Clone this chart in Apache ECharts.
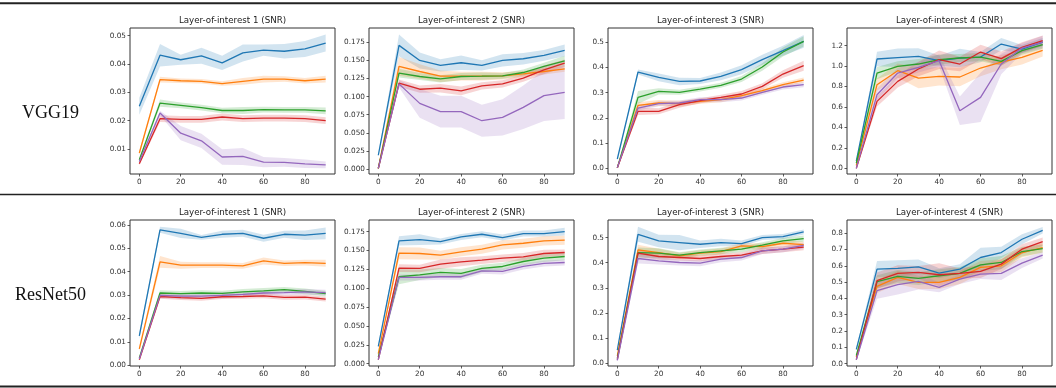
<!DOCTYPE html>
<html>
<head>
<meta charset="utf-8">
<script src="https://cdn.jsdelivr.net/npm/echarts@6/dist/echarts.min.js"></script>
<style>
html,body{margin:0;padding:0;background:#fff;}
#chart{width:1056px;height:388px;}
</style>
</head>
<body>
<div id="chart"></div>
<script>
// ---------- data ----------
const steps = [0, 10, 20, 30, 40, 50, 60, 70, 80, 90];
const xTicks = [0, 20, 40, 60, 80];
const panelTitles = ['Layer-of-interest 1 (SNR)', 'Layer-of-interest 2 (SNR)', 'Layer-of-interest 3 (SNR)', 'Layer-of-interest 4 (SNR)'];
const rowLabels = ['VGG19', 'ResNet50'];
const seriesNames = ['series 1', 'series 2', 'series 3', 'series 4', 'series 5'];

// each row of a *_mean / *_err array = one series (blue, orange, green, red, purple)
const vgg1_mean = [
  [0.0251,0.0431,0.0415,0.0429,0.0404,0.0439,0.0449,0.0445,0.0453,0.0474],
  [0.0086,0.0345,0.0341,0.0339,0.0331,0.0339,0.0347,0.0347,0.0341,0.0347],
  [0.0062,0.0262,0.0254,0.0246,0.0236,0.0236,0.0239,0.0238,0.0238,0.0235],
  [0.0048,0.0207,0.0205,0.0205,0.0213,0.0207,0.0209,0.0209,0.0207,0.0200],
  [0.0056,0.0227,0.0156,0.0129,0.0072,0.0074,0.0054,0.0053,0.0048,0.0044]];
const vgg1_err = [
  [0.003,0.004,0.0018,0.0028,0.0025,0.003,0.002,0.0026,0.0028,0.003],
  [0.0008,0.001,0.0008,0.0008,0.0008,0.0012,0.0012,0.001,0.001,0.0012],
  [0.0006,0.0013,0.001,0.001,0.001,0.0012,0.001,0.001,0.001,0.0012],
  [0.0005,0.0012,0.0012,0.0012,0.0012,0.0012,0.0012,0.0012,0.0012,0.0012],
  [0.0006,0.0008,0.0025,0.0025,0.0027,0.003,0.0018,0.0015,0.0015,0.0012]];

const vgg2_mean = [
  [0.019,0.1708,0.150,0.1431,0.1468,0.1431,0.150,0.1523,0.157,0.1639],
  [0.001,0.1417,0.1347,0.1282,0.1282,0.1282,0.1287,0.1315,0.1347,0.1384],
  [0.001,0.1324,0.1278,0.1245,0.1278,0.1282,0.1287,0.1333,0.1417,0.1495],
  [0.001,0.1185,0.1102,0.1116,0.1079,0.1148,0.1176,0.1255,0.137,0.1463],
  [0.001,0.1176,0.0907,0.0792,0.0792,0.0667,0.0713,0.0852,0.1014,0.106]];
const vgg2_err = [
  [0.002,0.015,0.011,0.0085,0.01,0.007,0.0085,0.008,0.0075,0.008],
  [0.001,0.013,0.01,0.008,0.006,0.006,0.005,0.004,0.004,0.004],
  [0.001,0.006,0.005,0.005,0.005,0.005,0.004,0.004,0.005,0.007],
  [0.001,0.005,0.005,0.006,0.006,0.005,0.005,0.005,0.006,0.005],
  [0.001,0.005,0.02,0.022,0.022,0.022,0.025,0.03,0.035,0.037]];

const vgg3_mean = [
  [0.037,0.3823,0.361,0.345,0.3466,0.365,0.3915,0.4312,0.467,0.504],
  [0.002,0.25,0.2593,0.2566,0.2659,0.2725,0.2884,0.3082,0.332,0.3505],
  [0.002,0.2817,0.3055,0.3016,0.3148,0.3294,0.3545,0.402,0.4616,0.504],
  [0.002,0.2262,0.2262,0.2526,0.2685,0.2817,0.295,0.3254,0.3743,0.4074],
  [0.002,0.2394,0.2566,0.2593,0.2725,0.2725,0.2791,0.3016,0.3228,0.332]];
const vgg3_err = [
  [0.004,0.01,0.015,0.015,0.012,0.015,0.018,0.02,0.02,0.025],
  [0.002,0.012,0.012,0.012,0.01,0.01,0.01,0.01,0.01,0.01],
  [0.002,0.025,0.012,0.01,0.01,0.01,0.012,0.015,0.018,0.02],
  [0.002,0.015,0.012,0.012,0.01,0.01,0.012,0.012,0.015,0.02],
  [0.002,0.01,0.01,0.01,0.01,0.01,0.01,0.01,0.01,0.01]];

const vgg4_mean = [
  [0.07,1.0696,1.0826,1.0957,1.0533,1.0794,1.0891,1.2163,1.1674,1.2359],
  [0.03,0.8185,0.9555,0.8837,0.90,0.8935,0.9815,1.04,1.0859,1.1543],
  [0.05,0.9326,0.998,1.0207,1.063,1.0794,1.089,1.0467,1.151,1.21],
  [0.0,0.6555,0.8511,0.9717,1.063,1.0207,1.138,1.0729,1.1837,1.2489],
  [0.0,0.7207,0.9326,0.988,1.0533,0.5642,0.6946,1.0207,1.177,1.236]];
const vgg4_err = [
  [0.01,0.07,0.09,0.08,0.05,0.09,0.05,0.06,0.04,0.04],
  [0.01,0.06,0.07,0.1,0.09,0.09,0.08,0.07,0.07,0.06],
  [0.01,0.06,0.05,0.05,0.05,0.04,0.04,0.04,0.04,0.04],
  [0.005,0.05,0.06,0.07,0.09,0.07,0.07,0.07,0.05,0.05],
  [0.005,0.06,0.05,0.05,0.06,0.14,0.24,0.1,0.05,0.06]];

const res1_mean = [
  [0.0126,0.0579,0.0564,0.0547,0.056,0.0564,0.0543,0.056,0.0556,0.0564],
  [0.007,0.0442,0.0428,0.0428,0.0428,0.0425,0.0446,0.0436,0.0439,0.0436],
  [0.0031,0.0309,0.0306,0.0309,0.0307,0.0314,0.0318,0.0323,0.0316,0.0306],
  [0.0024,0.0294,0.0289,0.0286,0.0293,0.0294,0.0297,0.029,0.0291,0.0283],
  [0.0027,0.0299,0.0296,0.0296,0.0299,0.0303,0.0309,0.0311,0.0314,0.0311]];
const res1_err = [
  [0.0015,0.0013,0.002,0.001,0.0015,0.0015,0.0015,0.0015,0.002,0.0025],
  [0.001,0.0025,0.0015,0.0012,0.0012,0.0012,0.0015,0.0012,0.0012,0.0015],
  [0.0004,0.0012,0.0012,0.0012,0.0012,0.0012,0.0012,0.0012,0.0012,0.0012],
  [0.0003,0.001,0.001,0.001,0.001,0.001,0.001,0.001,0.001,0.001],
  [0.0003,0.0012,0.0012,0.0012,0.0012,0.0012,0.0012,0.0012,0.0012,0.0012]];

const res2_mean = [
  [0.0228,0.1627,0.1644,0.1618,0.168,0.1715,0.1671,0.1724,0.1724,0.175],
  [0.0132,0.1464,0.146,0.1438,0.1482,0.1517,0.1574,0.1596,0.1627,0.1636],
  [0.0088,0.1152,0.1178,0.1209,0.1196,0.1262,0.1288,0.1354,0.1398,0.142],
  [0.0053,0.1266,0.1262,0.1319,0.135,0.1372,0.1398,0.1416,0.146,0.1473],
  [0.0053,0.1143,0.1143,0.1152,0.1152,0.1231,0.1222,0.1288,0.1328,0.1341]];
const res2_err = [
  [0.002,0.006,0.007,0.004,0.004,0.004,0.004,0.004,0.004,0.005],
  [0.001,0.008,0.008,0.006,0.006,0.006,0.006,0.006,0.006,0.006],
  [0.001,0.01,0.007,0.006,0.006,0.005,0.005,0.005,0.005,0.005],
  [0.001,0.005,0.005,0.006,0.006,0.005,0.005,0.005,0.005,0.004],
  [0.001,0.004,0.004,0.004,0.004,0.004,0.004,0.004,0.004,0.004]];

const res3_mean = [
  [0.0528,0.5132,0.4868,0.4802,0.4736,0.4802,0.4762,0.5,0.504,0.5224],
  [0.03,0.4512,0.4406,0.4274,0.438,0.4446,0.467,0.4644,0.4776,0.472],
  [0.02,0.4406,0.438,0.43,0.4406,0.4472,0.4538,0.4697,0.4868,0.496],
  [0.015,0.438,0.4248,0.4208,0.4169,0.4248,0.4301,0.4472,0.4538,0.462],
  [0.012,0.4169,0.4077,0.401,0.3984,0.4142,0.4208,0.4472,0.4538,0.469]];
const res3_err = [
  [0.005,0.03,0.025,0.03,0.015,0.015,0.012,0.01,0.01,0.01],
  [0.003,0.02,0.015,0.012,0.012,0.012,0.012,0.012,0.012,0.012],
  [0.002,0.02,0.02,0.012,0.012,0.012,0.012,0.012,0.012,0.012],
  [0.002,0.015,0.013,0.012,0.012,0.012,0.012,0.012,0.012,0.012],
  [0.002,0.02,0.015,0.012,0.012,0.012,0.012,0.012,0.012,0.012]];

const res4_mean = [
  [0.0872,0.58,0.5841,0.5943,0.5556,0.58,0.6513,0.6819,0.7633,0.8183],
  [0.04,0.4741,0.5291,0.4986,0.4986,0.5291,0.5902,0.6004,0.6819,0.7124],
  [0.05,0.5026,0.5352,0.523,0.5393,0.5536,0.6065,0.6208,0.688,0.7063],
  [0.024,0.5088,0.5536,0.5597,0.5454,0.5536,0.5658,0.6106,0.7022,0.7491],
  [0.024,0.4477,0.4843,0.5047,0.468,0.5189,0.5495,0.5536,0.6167,0.6656]];
const res4_err = [
  [0.01,0.05,0.05,0.045,0.03,0.03,0.06,0.035,0.03,0.02],
  [0.005,0.04,0.04,0.04,0.04,0.04,0.04,0.04,0.03,0.03],
  [0.005,0.04,0.04,0.04,0.04,0.04,0.04,0.04,0.03,0.025],
  [0.005,0.05,0.05,0.04,0.07,0.03,0.04,0.03,0.03,0.025],
  [0.005,0.05,0.06,0.05,0.03,0.03,0.03,0.04,0.03,0.02]];

// y-axis tick labels per panel
const vgg1_ticks = [0.01, 0.02, 0.03, 0.04, 0.05];
const vgg2_ticks = [0, 0.025, 0.05, 0.075, 0.1, 0.125, 0.15, 0.175];
const vgg3_ticks = [0, 0.1, 0.2, 0.3, 0.4, 0.5];
const vgg4_ticks = [0, 0.2, 0.4, 0.6, 0.8, 1.0, 1.2];
const res1_ticks = [0, 0.01, 0.02, 0.03, 0.04, 0.05, 0.06];
const res2_ticks = [0, 0.025, 0.05, 0.075, 0.1, 0.125, 0.15, 0.175];
const res3_ticks = [0, 0.1, 0.2, 0.3, 0.4, 0.5];
const res4_ticks = [0, 0.1, 0.2, 0.3, 0.4, 0.5, 0.6, 0.7, 0.8];

// ---------- layout / style ----------
const colors = ['#1f77b4', '#ff7f0e', '#2ca02c', '#d62728', '#9467bd'];
const panels = [
  {mean: vgg1_mean, err: vgg1_err, ticks: vgg1_ticks, dec: 2, min: 0.0012, max: 0.0527},
  {mean: vgg2_mean, err: vgg2_err, ticks: vgg2_ticks, dec: 3, min: -0.0069, max: 0.1948},
  {mean: vgg3_mean, err: vgg3_err, ticks: vgg3_ticks, dec: 1, min: -0.0225, max: 0.557},
  {mean: vgg4_mean, err: vgg4_err, ticks: vgg4_ticks, dec: 1, min: -0.055, max: 1.373},
  {mean: res1_mean, err: res1_err, ticks: res1_ticks, dec: 2, min: -0.0003, max: 0.0621},
  {mean: res2_mean, err: res2_err, ticks: res2_ticks, dec: 3, min: -0.0031, max: 0.1904},
  {mean: res3_mean, err: res3_err, ticks: res3_ticks, dec: 1, min: -0.0106, max: 0.570},
  {mean: res4_mean, err: res4_err, ticks: res4_ticks, dec: 1, min: -0.0147, max: 0.8815}
];
const colLefts = [130, 369, 608, 847];
const rowTops = [28, 220];
const gridW = 205, gridH = 146;
const tickColor = '#333';
const labelFont = 'DejaVu Sans';

const grids = [], xAxes = [], yAxes = [], series = [], graphics = [];

function bandRenderer(color) {
  return function (params, api) {
    if (params.dataIndex !== 0) return null;
    const lower = [], upper = [];
    for (let k = 0; k < steps.length; k++) {
      lower.push(api.coord([api.value(0, k), api.value(1, k)]));
      upper.push(api.coord([api.value(0, k), api.value(2, k)]));
    }
    return {type: 'polygon', silent: true,
      shape: {points: lower.concat(upper.reverse())},
      style: {fill: color, opacity: 0.2}};
  };
}

panels.forEach((p, i) => {
  const r = Math.floor(i / 4), c = i % 4;
  grids.push({left: colLefts[c], top: rowTops[r], width: gridW, height: gridH,
    show: true, borderColor: '#333', borderWidth: 1, backgroundColor: 'transparent', containLabel: false});
  xAxes.push({type: 'value', gridIndex: i, min: -4.5, max: 94.5,
    splitLine: {show: false}, axisLine: {show: false, onZero: false},
    axisTick: {show: true, length: 2.5, lineStyle: {color: tickColor, width: 0.8}, customValues: xTicks},
    axisLabel: {customValues: xTicks, fontFamily: labelFont, fontSize: 7.3, color: '#333', margin: 4.5,
      formatter: v => String(Math.round(v))}});
  yAxes.push({type: 'value', gridIndex: i, min: p.min, max: p.max,
    splitLine: {show: false}, axisLine: {show: false, onZero: false},
    axisTick: {show: true, length: 2.5, lineStyle: {color: tickColor, width: 0.8}, customValues: p.ticks},
    axisLabel: {customValues: p.ticks, fontFamily: labelFont, fontSize: 7.3, color: '#333', margin: 4,
      formatter: v => Number(v).toFixed(p.dec)}});
  for (let s = 0; s < 5; s++) {
    series.push({type: 'custom', name: seriesNames[s] + ' band', xAxisIndex: i, yAxisIndex: i,
      data: steps.map((x, k) => [x, p.mean[s][k] - p.err[s][k], p.mean[s][k] + p.err[s][k]]),
      encode: {x: 0, y: [1, 2]}, silent: true, z: 1,
      renderItem: bandRenderer(colors[s])});
  }
  for (let s = 0; s < 5; s++) {
    series.push({type: 'line', name: seriesNames[s], xAxisIndex: i, yAxisIndex: i,
      data: steps.map((x, k) => [x, p.mean[s][k]]),
      symbol: 'none', silent: true,
      lineStyle: {color: colors[s], width: 1.3}, z: 2});
  }
  graphics.push({type: 'text', silent: true, z: 100,
    style: {text: panelTitles[c], x: colLefts[c] + gridW / 2, y: rowTops[r] - 7.5,
      textAlign: 'center', textVerticalAlign: 'middle',
      font: '8.7px "DejaVu Sans"', fill: '#222'}});
});

rowLabels.forEach((t, r) => {
  graphics.push({type: 'text', silent: true, z: 100,
    style: {text: t, x: 50.5, y: [113, 295][r], textAlign: 'center', textVerticalAlign: 'middle',
      font: '18px "Liberation Serif"', fill: '#111'}});
});
[[3.3, 2], [194.5, 1.3], [386.5, 2]].forEach(([y, w]) => {
  graphics.push({type: 'line', silent: true, z: 100,
    shape: {x1: 0, y1: y, x2: 1056, y2: y}, style: {stroke: '#222', lineWidth: w}});
});

const chart = echarts.init(document.getElementById('chart'), null, {renderer: 'canvas'});
chart.setOption({
  animation: false,
  backgroundColor: '#fff',
  grid: grids, xAxis: xAxes, yAxis: yAxes, series: series,
  graphic: graphics
});
</script>
</body>
</html>
